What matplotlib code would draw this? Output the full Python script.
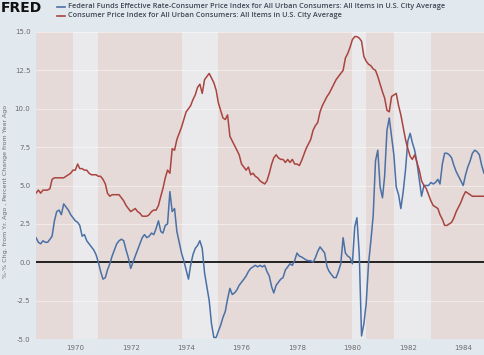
import matplotlib
matplotlib.use("Agg")
import matplotlib.pyplot as plt
from matplotlib.lines import Line2D
import pandas as pd

# monthly observations, Aug 1968 - Oct 1984
dates = pd.date_range("1968-08-01", "1984-10-01", freq="MS")

# Consumer Price Index, % change from year ago
cpi = [
    4.5, 4.7, 4.5, 4.7, 4.7,                                          # 1968 Aug-Dec
    4.7, 4.8, 5.4, 5.5, 5.5, 5.5, 5.5, 5.5, 5.6, 5.7, 5.8, 6.0,       # 1969
    6.0, 6.4, 6.1, 6.1, 6.0, 6.0, 5.8, 5.7, 5.7, 5.7, 5.6, 5.6,       # 1970
    5.4, 5.1, 4.5, 4.3, 4.4, 4.4, 4.4, 4.4, 4.2, 4.0, 3.7, 3.5,       # 1971
    3.3, 3.4, 3.5, 3.3, 3.2, 3.0, 3.0, 3.0, 3.1, 3.3, 3.4, 3.4,       # 1972
    3.7, 4.3, 4.8, 5.5, 6.0, 5.8, 7.4, 7.3, 8.0, 8.4, 8.8, 9.3,       # 1973
    9.8, 10.0, 10.2, 10.6, 10.9, 11.4, 11.6, 11.0, 11.9, 12.1, 12.3, 12.0,  # 1974
    11.7, 11.2, 10.4, 9.9, 9.4, 9.3, 9.6, 8.2, 7.9, 7.6, 7.3, 7.0,    # 1975
    6.4, 6.2, 6.0, 6.2, 5.7, 5.8, 5.6, 5.5, 5.3, 5.2, 5.1, 5.3,       # 1976
    5.8, 6.4, 6.8, 7.0, 6.8, 6.7, 6.7, 6.5, 6.7, 6.5, 6.7, 6.4,       # 1977
    6.4, 6.3, 6.6, 7.0, 7.4, 7.7, 8.0, 8.6, 8.9, 9.1, 9.8, 10.2,      # 1978
    10.5, 10.8, 11.0, 11.3, 11.6, 11.9, 12.1, 12.3, 12.5, 13.3, 13.6, 14.0,  # 1979
    14.5, 14.7, 14.7, 14.6, 14.4, 13.4, 13.1, 12.9, 12.8, 12.6, 12.5, 12.1,  # 1980
    11.6, 11.1, 10.7, 9.9, 9.8, 10.8, 10.9, 11.0, 10.2, 9.6, 8.8, 8.0,  # 1981
    7.4, 6.9, 6.7, 7.0, 6.5, 6.0, 5.3, 5.0, 4.8, 4.4, 4.0, 3.7,       # 1982
    3.6, 3.5, 3.1, 2.8, 2.4, 2.4, 2.5, 2.6, 2.9, 3.3, 3.6, 3.9,       # 1983
    4.3, 4.6, 4.5, 4.4, 4.3, 4.3, 4.3, 4.3, 4.3, 4.3,                 # 1984 Jan-Oct
]

# Fed funds rate minus CPI inflation
real_ff = [
    1.6, 1.3, 1.2, 1.4, 1.3,                                          # 1968 Aug-Dec
    1.3, 1.5, 1.7, 2.7, 3.3, 3.4, 3.1, 3.8, 3.6, 3.4, 3.1, 2.9,       # 1969
    2.7, 2.6, 2.4, 1.7, 1.8, 1.4, 1.2, 1.0, 0.8, 0.5, 0.0, -0.6,      # 1970
    -1.1, -1.0, -0.5, -0.1, 0.4, 0.8, 1.2, 1.4, 1.5, 1.4, 0.8, 0.3,   # 1971
    -0.4, 0.0, 0.4, 0.8, 1.2, 1.6, 1.8, 1.6, 1.7, 1.9, 1.8, 2.2,      # 1972
    2.7, 2.0, 1.9, 2.4, 2.5, 4.6, 3.3, 3.5, 2.0, 1.3, 0.6, 0.1,       # 1973
    -0.5, -1.1, -0.2, 0.5, 0.9, 1.1, 1.4, 0.9, -0.7, -1.6, -2.5, -4.0,  # 1974
    -4.9, -4.9, -4.5, -4.1, -3.6, -3.2, -2.4, -1.7, -2.1, -2.0, -1.8, -1.5,  # 1975
    -1.3, -1.1, -0.9, -0.6, -0.4, -0.3, -0.2, -0.3, -0.2, -0.3, -0.2, -0.6,  # 1976
    -0.9, -1.6, -2.0, -1.5, -1.3, -1.1, -1.0, -0.5, -0.3, -0.1, -0.2, 0.1,   # 1977
    0.6, 0.4, 0.35, 0.25, 0.15, 0.1, 0.1, 0.0, 0.3, 0.7, 1.0, 0.8,    # 1978
    0.6, -0.3, -0.6, -0.8, -1.0, -1.0, -0.6, -0.1, 1.6, 0.6, 0.4, 0.3,  # 1979
    -0.1, 2.3, 2.9, 0.5, -4.8, -4.0, -2.7, -0.1, 1.4, 3.0, 6.6, 7.3,  # 1980
    4.9, 4.2, 5.6, 8.6, 9.4, 8.2, 7.0, 4.9, 4.4, 3.5, 4.6, 6.0,       # 1981
    7.9, 8.4, 7.8, 7.3, 6.5, 5.4, 4.3, 5.0, 5.0, 5.0, 5.2, 5.1,       # 1982
    5.2, 5.4, 5.1, 6.4, 7.1, 7.1, 7.0, 6.8, 6.3, 5.9, 5.6, 5.3,       # 1983
    5.0, 5.7, 6.2, 6.6, 7.1, 7.3, 7.2, 7.0, 6.3, 5.8,                 # 1984 Jan-Oct
]

# NBER recessions (shaded)
recessions = [
    ("1969-12-01", "1970-11-01"),
    ("1973-11-01", "1975-03-01"),
    ("1980-01-01", "1980-07-01"),
    ("1981-07-01", "1982-11-01"),
]

y_ticks = [-5.0, -2.5, 0.0, 2.5, 5.0, 7.5, 10.0, 12.5, 15.0]
x_years = [1970, 1972, 1974, 1976, 1978, 1980, 1982, 1984]

label_ff = ("Federal Funds Effective Rate-Consumer Price Index for All Urban "
            "Consumers: All Items in U.S. City Average")
label_cpi = "Consumer Price Index for All Urban Consumers: All Items in U.S. City Average"

blue = "#4a70a6"
red = "#a9443f"

fig = plt.figure(figsize=(4.85, 3.55), dpi=100)
fig.patch.set_facecolor("#e1e8ee")

W, H = 485, 355
ax = fig.add_axes([36 / W, (H - 339) / H, (484 - 36) / W, (339 - 32) / H])
ax.set_facecolor("#e5dad8")

for start, end in recessions:
    ax.axvspan(pd.Timestamp(start), pd.Timestamp(end), color="#eaeaec", lw=0, zorder=0)

for yt in y_ticks:
    ax.axhline(yt, color="white", lw=0.6, alpha=0.55, zorder=1)
ax.axhline(0, color="black", lw=1.2, zorder=3)

ax.plot(dates, real_ff, color=blue, lw=1.1, zorder=4)
ax.plot(dates, cpi, color=red, lw=1.1, zorder=4)

ax.set_xlim(dates[0], dates[-1])
ax.set_ylim(-5, 15)
ax.set_yticks(y_ticks)
ax.set_yticklabels([f"{v:.1f}" for v in y_ticks])
ax.set_xticks([pd.Timestamp(f"{y}-01-01") for y in x_years])
ax.set_xticklabels([str(y) for y in x_years])
ax.tick_params(length=0, labelsize=5, colors="#6b6b6b", pad=4)
for s in ax.spines.values():
    s.set_visible(False)

ax.set_ylabel("%-% Chg. from Yr. Ago , Percent Change from Year Ago",
              fontsize=4.5, color="#6b6b6b")
ax.yaxis.set_label_coords((8 - 36) / 448, 0.48)

# header: logo + legend
fig.text(1 / W, 1 - 8 / H, "FRED", fontsize=10, fontweight="bold",
         color="#111111", va="center", ha="left")
for row, (txt, col) in enumerate([(label_ff, blue), (label_cpi, red)]):
    yy = 1 - (7 + 8.5 * row) / H
    fig.add_artist(Line2D([57 / W, 65 / W], [yy, yy], color=col, lw=1.2,
                          transform=fig.transFigure))
    fig.text(68 / W, yy, txt, fontsize=5.3, family="Open Sans",
             fontweight="semibold", color="#3f4955", va="center", ha="left")

fig.savefig("out.png", dpi=100, facecolor=fig.get_facecolor())
